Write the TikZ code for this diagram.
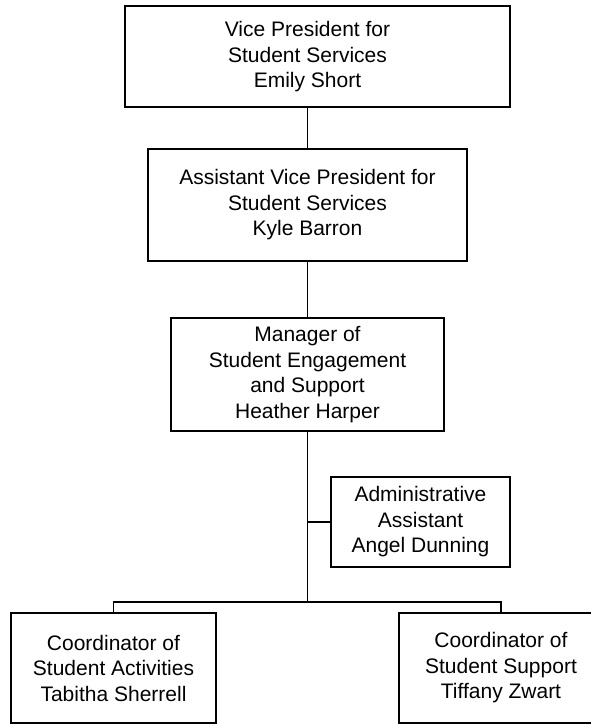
\documentclass[tikz,border=0pt]{standalone}
\usepackage{fontspec}
\setmainfont{Liberation Sans}
\begin{document}
\begin{tikzpicture}[x=1pt,y=-1pt,
  every node/.style={font=\fontsize{21}{25.5}\selectfont},
  orgbox/.style={draw=black, line width=1.6pt, align=center, inner sep=0pt},
  plaintext/.style={align=center, inner sep=0pt},
  link/.style={draw=black, line width=1.6pt}]
\useasboundingbox (0,0) rectangle (590,724);
\node[orgbox, minimum width=385pt, minimum height=101pt] (vp) at (317.5,56.5) {};
\node[plaintext] (vpt) at (307.5,57)
  {Vice President for\\Student Services\\Emily Short};
\node[orgbox, minimum width=319pt, minimum height=112pt] (avp) at (307.5,205)
  {Assistant Vice President for\\Student Services\\Kyle Barron};
\node[orgbox, minimum width=273pt, minimum height=113pt] (mgr) at (307.5,374.5)
  {Manager of\\Student Engagement\\and Support\\Heather Harper};
\node[orgbox, minimum width=179pt, minimum height=90pt] (adm) at (420.5,522)
  {Administrative\\Assistant\\Angel Dunning};
\node[orgbox, minimum width=205pt, minimum height=110pt] (ca) at (113.5,668)
  {Coordinator of\\Student Activities\\Tabitha Sherrell};
\node[orgbox, minimum width=204pt, minimum height=110pt] (cs) at (501,668)
  {Coordinator of\\Student Support\\Tiffany Zwart};
\coordinate (bus) at (307.5,602);
\draw[link] (avp.north |- vp.south) -- (avp.north);
\draw[link] (avp.south) -- (mgr.north);
\draw[link] (mgr.south) -- (bus);
\draw[link] (adm.west) -- (adm.west -| mgr.south);
\draw[link] (ca.north) |- (bus) -| (cs.north);
\end{tikzpicture}
\end{document}
